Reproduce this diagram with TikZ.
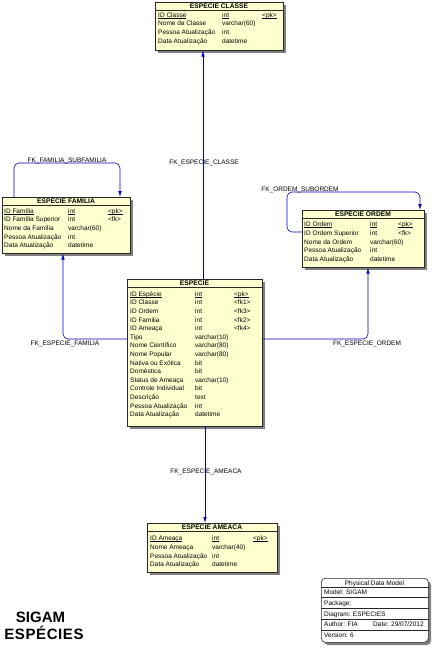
\documentclass[tikz,border=0pt]{standalone}
\usepackage{fontspec}
\setmainfont{Liberation Sans}
\usetikzlibrary{arrows.meta}
\definecolor{tblfill}{RGB}{255,255,208}
\definecolor{fkblue}{RGB}{0,0,190}
\definecolor{shadowgray}{RGB}{128,128,128}
\definecolor{framecol}{RGB}{40,40,40}
\newcommand\pkul[1]{\setbox0\hbox{#1}\rlap{\rule[-0.9pt]{\wd0}{0.4pt}}\box0}
\newcommand\mytable[6]{%
  \fill[shadowgray] ({#2+3},{#3+3}) rectangle ++(#4,#5);
  \node[tbl, minimum width=#4, minimum height=#5] (#1) at (#2,#3) {};
  \draw[framecol, line width=0.6pt] (#2,{#3+8.5}) -- ++(#4,0);
  \node[hdr] (#1-title) at ({#2+#4/2},{#3+6.8}) {#6};
}
\begin{document}
\begin{tikzpicture}[x=1pt,y=-1pt,
  tbl/.style={draw=framecol, fill=tblfill, line width=0.6pt, inner sep=0, anchor=north west},
  hdr/.style={font=\fontsize{6.7}{7}\selectfont\bfseries, inner sep=0, anchor=base},
  cell/.style={font=\fontsize{6.5}{7}\selectfont, inner sep=0, anchor=base west},
  fklabel/.style={font=\fontsize{6.5}{7}\selectfont, inner sep=0},
  fk/.style={draw=fkblue, line width=0.6pt, rounded corners=5pt, -{Latex[length=6pt,width=3.5pt]}},
  bigtitle/.style={font=\fontsize{15}{15}\selectfont\bfseries, inner sep=0, anchor=base}]
\fill[white] (0,0) rectangle (431,650);
\useasboundingbox (0,0) rectangle (431,650);

% ESPECIE CLASSE
\mytable{classe}{155}{2}{128}{48}{ESPÉCIE CLASSE}
\foreach \n/\t/\k [count=\i from 0] in {\pkul{ID Classe}/\pkul{int}/\pkul{<pk>}, Nome da Classe/varchar(60)/{}, Pessoa Atualização/int/{}, Data Atualização/datetime/{}}{
  \node[cell] (cls-a\i) at (158,{17.3+8.6*\i}) {\n};
  \node[cell] (cls-b\i) at (222,{17.3+8.6*\i}) {\t};
  \node[cell] (cls-c\i) at (262,{17.3+8.6*\i}) {\k};
}

% ESPECIE FAMILIA
\mytable{familia}{2}{197}{128}{56}{ESPÉCIE FAMÍLIA}
\foreach \n/\t/\k [count=\i from 0] in {\pkul{ID Família}/\pkul{int}/\pkul{<pk>}, ID Família Superior/int/<fk>, Nome da Família/varchar(60)/{}, Pessoa Atualização/int/{}, Data Atualização/datetime/{}}{
  \node[cell] (fam-a\i) at (4,{213.3+8.6*\i}) {\n};
  \node[cell] (fam-b\i) at (68,{213.3+8.6*\i}) {\t};
  \node[cell] (fam-c\i) at (108,{213.3+8.6*\i}) {\k};
}

% ESPECIE ORDEM
\mytable{ordem}{302}{210}{122}{57}{ESPÉCIE ORDEM}
\foreach \n/\t/\k [count=\i from 0] in {\pkul{ID Ordem}/\pkul{int}/\pkul{<pk>}, ID Ordem Superior/int/<fk>, Nome da Ordem/varchar(60)/{}, Pessoa Atualização/int/{}, Data Atualização/datetime/{}}{
  \node[cell] (ord-a\i) at (304,{226.8+8.6*\i}) {\n};
  \node[cell] (ord-b\i) at (370,{226.8+8.6*\i}) {\t};
  \node[cell] (ord-c\i) at (398,{226.8+8.6*\i}) {\k};
}

% ESPECIE
\mytable{especie}{127}{279}{135}{147}{ESPÉCIE}
\foreach \n/\t/\k [count=\i from 0] in {\pkul{ID Espécie}/\pkul{int}/\pkul{<pk>}, ID Classe/int/<fk1>, ID Ordem/int/<fk3>, ID Familia/int/<fk2>, ID Ameaça/int/<fk4>, Tipo/varchar(10)/{}, Nome Científico/varchar(80)/{}, Nome Popular/varchar(80)/{}, Nativa ou Exótica/bit/{}, Doméstica/bit/{}, Status de Ameaça/varchar(10)/{}, Controle Individual/bit/{}, Descrição/text/{}, Pessoa Atualização/int/{}, Data Atualização/datetime/{}}{
  \node[cell] (esp-a\i) at (130,{296.3+8.6*\i}) {\n};
  \node[cell] (esp-b\i) at (195,{296.3+8.6*\i}) {\t};
  \node[cell] (esp-c\i) at (234,{296.3+8.6*\i}) {\k};
}

% ESPECIE AMEACA
\mytable{ameaca}{147}{523}{130}{49}{ESPÉCIE AMEACA}
\foreach \n/\t/\k [count=\i from 0] in {\pkul{ID Ameaça}/\pkul{int}/\pkul{<pk>}, Nome Ameaça/varchar(40)/{}, Pessoa Atualização/int/{}, Data Atualização/datetime/{}}{
  \node[cell] (ame-a\i) at (150,{540.8+8.6*\i}) {\n};
  \node[cell] (ame-b\i) at (212,{540.8+8.6*\i}) {\t};
  \node[cell] (ame-c\i) at (253,{540.8+8.6*\i}) {\k};
}

% connectors
\coordinate (clsx) at (203,0);
\draw[fk] (especie.north -| clsx) -- (classe.south -| clsx);
\coordinate (famx) at (63,339);
\draw[fk] (especie.west |- famx) -| (familia.south -| famx);
\coordinate (ordx) at (368,339);
\draw[fk] (especie.east |- ordx) -| (ordem.south -| ordx);
\coordinate (amx) at (205,0);
\draw[fk] (especie.south -| amx) -- (ameaca.north -| amx);
\coordinate (famL) at (14,163);
\coordinate (famR) at (120,163);
\draw[fk] (familia.north -| famL) -- (famL) -- (famR) -- (familia.north -| famR);
\coordinate (ordA) at (287,232);
\coordinate (ordL) at (287,192);
\coordinate (ordR) at (420,192);
\draw[fk] (ordem.west |- ordA) -- (ordA) -- (ordL) -- (ordR) -- (ordem.north -| ordR);

% labels
\node[fklabel] (l-famsub) at (67,161) {FK\_FAMILIA\_SUBFAMILIA};
\node[fklabel] (l-ordsub) at (300,190) {FK\_ORDEM\_SUBORDEM};
\node[fklabel] (l-cls) at (204,163) {FK\_ESPECIE\_CLASSE};
\node[fklabel] (l-fam) at (65,344) {FK\_ESPECIE\_FAMILIA};
\node[fklabel] (l-ord) at (367,344) {FK\_ESPECIE\_ORDEM};
\node[fklabel] (l-ame) at (206,472) {FK\_ESPECIE\_AMEACA};

% title block
\fill[shadowgray, rounded corners=4pt] (324,581) rectangle (431,645);
\node[draw=framecol, line width=0.6pt, fill=white, rounded corners=4pt, minimum width=107, minimum height=64, inner sep=0, anchor=north west] (tblock) at (321,578) {};
\foreach \yy in {587,597.5,608.5,619,630}{
  \draw[framecol, line width=0.5pt] (tblock.west |- 0,\yy) -- (tblock.east |- 0,\yy);
}
\node[cell, anchor=base] (tb-title) at (374.5,585.2) {Physical Data Model};
\node[cell] (tb-model) at (324,594.6) {Model: SIGAM};
\node[cell] (tb-pack) at (324,605.3) {Package:};
\node[cell] (tb-diag) at (324,616.1) {Diagram: ESPECIES};
\node[cell] (tb-auth) at (324,626.8) {Author: FIA};
\node[cell] (tb-date) at (373,626.8) {Date: 29/07/2012};
\node[cell] (tb-ver) at (324,637.8) {Version: 6};

% big title
\node[bigtitle] (t-sigam) at (40.5,622) {SIGAM};
\node[bigtitle] (t-esp) at (44,639) {\addfontfeature{LetterSpace=4}ESPÉCIES};
\end{tikzpicture}
\end{document}
